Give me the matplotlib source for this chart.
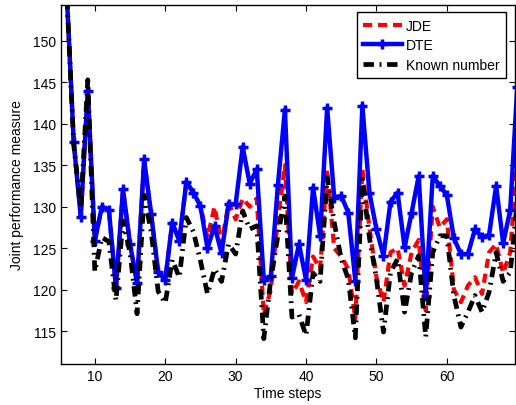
import matplotlib
matplotlib.use("Agg")
import matplotlib.pyplot as plt

plt.rcParams['font.family'] = ['Liberation Sans', 'DejaVu Sans']

# time steps 6..70
steps = list(range(6, 71))

dte = [156.0, 137.8, 128.8, 144.0, 125.9, 130.0, 129.6, 120.2, 132.1, 125.5,
       120.8, 135.7, 129.1, 122.1, 121.2, 128.1, 125.9, 133.0, 131.7, 130.1,
       125.0, 127.7, 124.4, 130.3, 130.3, 137.2, 132.8, 134.5, 121.2, 121.6,
       132.6, 141.7, 121.4, 125.5, 121.2, 132.3, 126.5, 141.9, 131.1, 131.3,
       129.3, 121.1, 142.2, 131.7, 127.3, 124.1, 130.6, 131.7, 125.1, 129.3,
       133.7, 119.3, 133.7, 132.5, 131.4, 126.2, 124.3, 124.3, 127.3, 126.3,
       126.6, 132.5, 125.6, 129.6, 144.4]

# JDE follows DTE up to step 25
jde = dte[:20] + [
       126.3, 130.0, 125.5, 130.5, 128.5, 131.0, 130.0, 131.0, 117.0, 120.0,
       128.5, 135.0, 119.5, 121.0, 118.5, 124.0, 122.5, 134.5, 125.0, 124.0,
       122.5, 116.5, 134.5, 127.5, 121.5, 118.5, 124.5, 125.0, 120.5, 124.5,
       126.0, 117.5, 130.0, 127.5, 128.5, 120.0, 118.5, 120.5, 121.5, 119.5,
       124.5, 125.5, 122.0, 124.5, 136.0]

known = [156.0, 137.5, 129.8, 145.3, 122.2, 126.3, 125.8, 118.7, 128.3, 124.5,
         117.1, 131.4, 127.0, 119.8, 118.4, 123.6, 121.5, 128.7, 127.0, 123.5,
         119.5, 122.5, 121.0, 125.5, 124.3, 129.5, 127.3, 127.7, 114.1, 121.3,
         126.5, 131.3, 116.7, 117.0, 114.5, 122.0, 121.0, 133.5, 128.1, 123.7,
         121.3, 114.2, 133.3, 126.3, 121.3, 114.9, 122.1, 123.7, 117.3, 122.1,
         124.1, 114.3, 124.5, 126.5, 126.5, 119.3, 115.5, 117.3, 119.3, 117.3,
         119.7, 124.5, 121.0, 122.1, 130.6]

fig = plt.figure(figsize=(5.16, 4.06), dpi=100)
ax = fig.add_axes([0.118, 0.101, 0.881, 0.884])

ax.plot(steps, jde, color='red', linewidth=3, linestyle=(0, (2.2, 1.4)), label='JDE')
ax.plot(steps, dte, color='blue', linewidth=3.2, marker='+', markersize=7,
        markeredgewidth=2.5, label='DTE')
ax.plot(steps, known, color='black', linewidth=3.4,
        linestyle=(0, (2.2, 1.2, 0.4, 1.2)), label='Known number')

ax.set_xlim(5.18, 69.75)
ax.set_ylim(111.05, 154.3)
ax.set_xticks([10, 20, 30, 40, 50, 60])
ax.set_yticks([115, 120, 125, 130, 135, 140, 145, 150])
ax.tick_params(direction='in', top=True, right=True, labelsize=10, length=4)
for s in ax.spines.values():
    s.set_linewidth(1.0)

ax.set_xlabel('Time steps', fontsize=10, labelpad=2)
ax.set_ylabel('Joint performance measure', fontsize=10, labelpad=6)

leg = ax.legend(loc='upper right', bbox_to_anchor=(0.979, 0.98), borderaxespad=0,
                fontsize=10, handlelength=2.8, fancybox=False, framealpha=1,
                borderpad=0.45, labelspacing=0.4, handletextpad=0.3)
leg.get_frame().set_edgecolor('black')
leg.get_frame().set_linewidth(1.0)

fig.savefig('out.png', dpi=100)
